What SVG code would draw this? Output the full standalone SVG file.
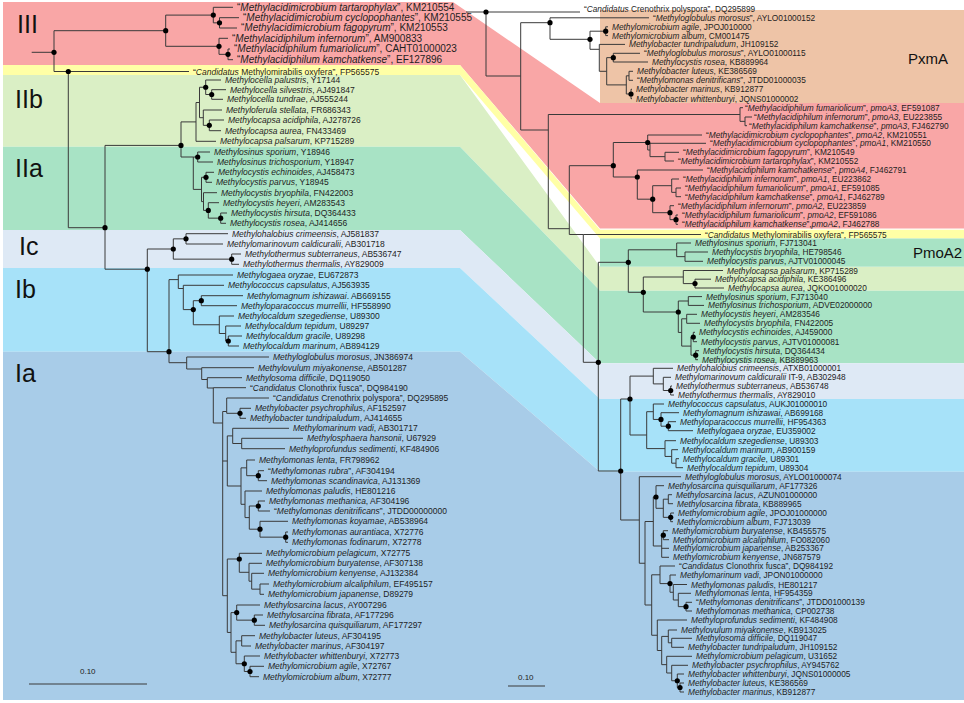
<svg xmlns="http://www.w3.org/2000/svg" width="964" height="703" viewBox="0 0 964 703">
<style>
.t{font-family:"Liberation Sans",Arial,sans-serif;font-size:8.5px;fill:#1e1e1e}
.b{font-family:"Liberation Sans",Arial,sans-serif;font-size:10px;fill:#1e1e1e}
.r{font-family:"Liberation Sans",Arial,sans-serif;font-size:8.3px;fill:#1e1e1e}
.i{font-style:italic}
.c{font-family:"Liberation Sans",Arial,sans-serif;font-size:25px;fill:#111}
.p{font-family:"Liberation Sans",Arial,sans-serif;font-size:15px;fill:#111}
.s{font-family:"Liberation Sans",Arial,sans-serif;font-size:8px;fill:#222}
.tree{fill:none;stroke:#3a3a3a;stroke-width:1}
.d{fill:#000}
</style>
<rect width="964" height="703" fill="#fff"/>
<g id="bands">
<polygon fill="#F9A6A6" points="3,2 453,2 600,103 964,103 964,228.5 600,228.5 460,65 3,65"/>
<polygon fill="#FFFFA6" points="3,65 460,65 600,229.8 964,229.8 964,238.5 600,238.5 460,75 3,75"/>
<polygon fill="#DAEFC5" points="3,75 460,75 600,266.7 964,266.7 964,290.7 600,290.7 460,146.7 3,146.7"/>
<polygon fill="#A8E3C5" points="3,146.7 460,146.7 600,290.7 964,290.7 964,363.3 600,363.3 460,230 3,230"/>
<rect fill="#A8E3C5" x="600" y="238.5" width="364" height="28.2"/>
<polygon fill="#DEE9F5" points="3,230 460,230 600,363.3 964,363.3 964,399 600,399 460,268 3,268"/>
<polygon fill="#A7E2F9" points="3,268 460,268 600,399 964,399 964,471.7 600,471.7 460,351.7 3,351.7"/>
<polygon fill="#A8CCE8" points="3,351.7 460,351.7 600,471.7 964,471.7 964,700 3,700"/>
<rect fill="#EEC4A7" x="600" y="10" width="364" height="93"/>
</g>
<g id="clade-labels">
<text class="c" x="17" y="33">III</text>
<text class="c" x="15" y="108">IIb</text>
<text class="c" x="15" y="177">IIa</text>
<text class="c" x="19" y="254.6">Ic</text>
<text class="c" x="15" y="298">Ib</text>
<text class="c" x="15" y="382">Ia</text>
<text class="p" x="908" y="64">PxmA</text>
<text class="p" x="913" y="258">PmoA2</text>
</g>
<g id="connectors">
<path class="tree" d="M31.7 52.3H54M54 30.7V71.5M54 30.7H165.7M54 71.5H68.3
M165.7 15.1V46.3M165.7 15.1H213.3M165.7 46.3H219
M213.3 7.3V22.85M213.3 7.3H233M213.3 22.85H219.5
M219.5 17.7V28M219.5 17.7H239M219.5 28H237
M219 38.3V54.35M219 38.3H228M219 54.35H228
M228 49V59.7M228 49H230M228 59.7H233
M68.3 71.5V227.7M68.3 71.5H189M68.3 227.7H105
M105 145.4V269.2M105 145.4H181M105 269.2H147.3
M181 121.9V157M181 121.9H196M181 157H193.3
M196 102.5V141.3M196 102.5H199.5M196 141.3H216
M199.5 87.25V117.7M199.5 87.25H205.7M199.5 117.7H203.3
M205.7 80V94.5M205.7 80H221M205.7 94.5H211.7
M211.7 89.7V99.3M211.7 89.7H226M211.7 99.3H223
M203.3 110V125.35M203.3 110H222M203.3 125.35H209.3
M209.3 120V130.7M209.3 120H224M209.3 130.7H221
M193.3 157V189.4M193.3 157H197.7M193.3 189.4H201.5
M197.7 152V162M197.7 152H210M197.7 162H213
M201.5 177.3V201.6M201.5 177.3H206M201.5 201.6H203.5
M206 172.3V182.3M206 172.3H214M206 182.3H212
M203.5 192.7V210.4M203.5 192.7H217M203.5 210.4H208.3
M208.3 202.7V218.15M208.3 202.7H219M208.3 218.15H220.7
M220.7 213V223.3M220.7 213H227M220.7 223.3H226
M147.3 249V351.7M147.3 249H173.3M147.3 351.7H169
M173.3 238.85V259.15M173.3 238.85H186M173.3 259.15H231.7
M186 233.7V244M186 233.7H228M186 244H223
M231.7 254V264.3M231.7 254H241M231.7 264.3H239
M169 279.6V362.7M169 279.6H178.3M169 362.7H186.7
M178.3 275V288.5M178.3 275H233M178.3 288.5H183.3
M183.3 285.3V309.6M183.3 285.3H224M183.3 309.6H193.3
M193.3 300.7V324.75M193.3 300.7H201.3M193.3 324.75H219.3
M201.3 295.7V305.7M201.3 295.7H243M201.3 305.7H237
M219.3 316V333.5M219.3 316H234M219.3 333.5H225.7
M225.7 326V341M225.7 326H241M225.7 341H228.3
M228.3 336V346M228.3 336H242M228.3 346H239
M186.7 357V369M186.7 357H269M186.7 369H201.7
M201.7 367.7V379.5M201.7 367.7H254M201.7 379.5H207.3
M207.3 377.7V388M207.3 377.7H242M207.3 388H213.3
M213.3 387.7V423M213.3 387.7H246M213.3 423H222.7
M222.7 411.5V595.7M222.7 411.5H226.7M222.7 461H227.3M222.7 595.7H227.3
M226.7 398V413.3M226.7 398H269M226.7 413.3H240
M240 408.3V418.3M240 408.3H251M240 418.3H246
M227.3 435.9V486M227.3 435.9H232.7M227.3 486H241
M232.7 428.3V443.5M232.7 428.3H289M232.7 443.5H241.7
M241.7 438.3V448.7M241.7 438.3H303M241.7 448.7H285
M241 467.85V504.3M241 467.85H246.7M241 504.3H245
M246.7 460V475.7M246.7 460H255M246.7 475.7H258.3
M258.3 470.7V480.7M258.3 470.7H264M258.3 480.7H267
M245 491V517.6M245 491H262M245 517.6H249.3
M249.3 506V529.2M249.3 506H258.3M249.3 529.2H260
M258.3 501V511M258.3 501H265M258.3 511H270
M260 521.3V537.15M260 521.3H288M260 537.15H285.7
M285.7 532V542.3M285.7 532H288M285.7 542.3H288
M227.3 559V632.45M227.3 559H239.3M227.3 632.45H231
M239.3 553.3V572.3M239.3 553.3H262M239.3 572.3H249
M249 563.3V581.2M249 563.3H262M249 581.2H251.7
M251.7 573.3V589.15M251.7 573.3H264M251.7 589.15H260
M260 584V594.3M260 584H269M260 594.3H264
M231 612.6V652.3M231 612.6H236.7M231 652.3H236
M236.7 605V620.15M236.7 605H260M236.7 620.15H254.3
M254.3 615V625.3M254.3 615H263M254.3 625.3H265
M236 640.85V663.75M236 640.85H241.7M236 663.75H244.3
M241.7 635.7V646M241.7 635.7H255M241.7 646H251
M244.3 656V671.5M244.3 656H260M244.3 671.5H250
M250 666.3V676.7M250 666.3H264M250 676.7H259"/>
<path class="tree" d="M466 12H486M486 12V76M486 12H580M486 76H520.7
M520.7 22.7V130M520.7 22.7H550M520.7 130H548.3
M550 17.8V39.3M550 17.8H649M550 39.3H590
M590 31.2V49.3M590 31.2H605.7M590 49.3H599.3
M605.7 26.8V35.6M605.7 26.8H608M605.7 35.6H608
M599.3 44.4V71.3M599.3 44.4H625M599.3 71.3H606.7
M606.7 57.65V84.9M606.7 57.65H613.3M606.7 84.9H626.3
M613.3 53.3V62M613.3 53.3H640M613.3 62H648
M626.3 75.8V94M626.3 75.8H629M626.3 94H631
M629 71.3V80.3M629 71.3H633M629 80.3H633
M631 89.3V98.7M631 89.3H632M631 98.7H632
M548.3 114.5V228.7M548.3 114.5H740M548.3 228.7H569.3
M740 107.7V121.35M740 107.7H743M740 121.35H745
M745 117V125.7M745 117H752M745 125.7H747
M569.3 165.7V234.5M569.3 165.7H613.3M569.3 234.5H583.3
M613.3 142.5V177M613.3 142.5H647.7M613.3 177H637.3
M647.7 135V150M647.7 135H702M647.7 150H650
M650 143.3V156.65M650 143.3H706M650 156.65H665
M665 152.3V161M665 152.3H679M665 161H674
M637.3 170V199.2M637.3 170H703M637.3 199.2H652.7
M652.7 185.7V212.7M652.7 185.7H671.7M652.7 212.7H670
M671.7 179V192.35M671.7 179H679M671.7 192.35H676
M676 188V196.7M676 188H681M676 196.7H681
M670 205.7V219.65M670 205.7H674M670 219.65H676
M676 215V224.3M676 215H678M676 224.3H678
M583.3 234.5V362.3M583.3 234.5H701M583.3 362.3H598.3
M598.3 262.3V471M598.3 262.3H628.3M598.3 471H620.7
M628.3 249.8V292.3M628.3 249.8H676.7M628.3 292.3H643.3
M676.7 243V256.65M676.7 243H691M676.7 256.65H685
M685 252V261.3M685 252H708M685 261.3H703
M643.3 277V312M643.3 277H683.3M643.3 312H678.3
M683.3 270.5V283.6M683.3 270.5H723M683.3 283.6H695
M695 279.2V288M695 279.2H711M695 288H724
M678.3 301V332.45M678.3 301H688.3M678.3 332.45H681.7
M688.3 296.6V305.4M688.3 296.6H702M688.3 305.4H704
M681.7 318.8V346.1M681.7 318.8H686.7M681.7 346.1H691
M686.7 314.3V323.3M686.7 314.3H697M686.7 323.3H700
M691 337V355.2M691 337H693.3M691 355.2H695.7
M693.3 332.3V341.7M693.3 332.3H695M693.3 341.7H697
M695.7 350.7V359.7M695.7 350.7H699M695.7 359.7H698
M620.7 399V520M620.7 399H630M620.7 520H639.3
M630 376.1V435M630 376.1H653.3M630 435H646.7
M653.3 368.3V383.9M653.3 368.3H673M653.3 383.9H663.3
M663.3 377.3V390.5M663.3 377.3H671M663.3 390.5H670.7
M670.7 386V395M670.7 386H672M670.7 395H674
M646.7 411.7V448.6M646.7 411.7H653.3M646.7 448.6H665
M653.3 404V419.45M653.3 404H664M653.3 419.45H661
M661 412.7V426.2M661 412.7H679M661 426.2H668.3
M668.3 421.7V430.7M668.3 421.7H676M668.3 430.7H693
M665 440.7V456.45M665 440.7H676M665 456.45H671.7
M671.7 449.7V463.2M671.7 449.7H678M671.7 463.2H676
M676 458.7V467.7M676 458.7H679M676 467.7H683
M639.3 476.7V563.25M639.3 476.7H681M639.3 563.25H645
M645 521.5V605M645 521.5H653.3M645 605H651.7
M653.3 497V546M653.3 497H656M653.3 546H661.7
M656 485.7V508.3M656 485.7H664M656 508.3H663.3
M663.3 499.2V517.35M663.3 499.2H668.3M663.3 517.35H670.7
M668.3 494.7V503.7M668.3 494.7H672M668.3 503.7H673
M670.7 513V521.7M670.7 513H674M670.7 521.7H673
M661.7 535.2V557.3M661.7 535.2H663.3M661.7 548.3H669M661.7 557.3H669
M663.3 530.7V539.7M663.3 530.7H668M663.3 539.7H669
M651.7 574.8V635.25M651.7 574.8H660M651.7 635.25H657.3
M660 566V583.6M660 566H675M660 583.6H670
M670 575V592.25M670 575H676M670 592.25H673.3
M673.3 584.5V600M673.3 584.5H687M673.3 600H678.3
M678.3 593.3V606.65M678.3 593.3H691M678.3 606.65H686
M686 602.3V611M686 602.3H692M686 611H692
M657.3 620V650.5M657.3 620H687M657.3 650.5H661.7
M661.7 636.4V664.65M661.7 636.4H668.3M661.7 664.65H666.7
M668.3 630V642.8M668.3 630H677M668.3 642.8H671.7
M671.7 638.3V647.3M671.7 638.3H692M671.7 647.3H684
M666.7 656.3V673M666.7 656.3H692M666.7 673H671.7
M671.7 665.3V680.75M671.7 665.3H688M671.7 680.75H677.3
M677.3 674V687.5M677.3 674H684M677.3 687.5H680
M680 683V692M680 683H684M680 692H684"/>
<path class="tree" d="M29 684H147M508 686H545"/>
</g>
<g id="node-dots" class="d">
<circle cx="54" cy="52.3" r="2.6"/><circle cx="165.7" cy="30.7" r="2.6"/><circle cx="213.3" cy="15.1" r="2.6"/><circle cx="219.5" cy="22.85" r="2.6"/><circle cx="219" cy="46.3" r="2.6"/><circle cx="228" cy="54.35" r="2.6"/><circle cx="68.3" cy="71.5" r="2.6"/><circle cx="105" cy="227.7" r="2.6"/><circle cx="181" cy="145.4" r="2.6"/><circle cx="147.3" cy="269.2" r="2.6"/><circle cx="173.3" cy="249" r="2.6"/><circle cx="169" cy="351.7" r="2.6"/><circle cx="205.7" cy="87.25" r="2.6"/><circle cx="211.7" cy="94.5" r="2.6"/><circle cx="209.3" cy="125.35" r="2.6"/><circle cx="197.7" cy="157" r="2.6"/><circle cx="206" cy="177.3" r="2.6"/><circle cx="208.3" cy="210.4" r="2.6"/><circle cx="220.7" cy="218.15" r="2.6"/><circle cx="186" cy="238.85" r="2.6"/><circle cx="231.7" cy="259.15" r="2.6"/><circle cx="201.3" cy="300.7" r="2.6"/><circle cx="193.3" cy="309.6" r="2.6"/><circle cx="228.3" cy="341" r="2.6"/><circle cx="240" cy="413.3" r="2.6"/><circle cx="258.3" cy="475.7" r="2.6"/><circle cx="258.3" cy="506" r="2.6"/><circle cx="260" cy="529.2" r="2.6"/><circle cx="285.7" cy="537.15" r="2.6"/><circle cx="239.3" cy="559" r="2.6"/><circle cx="236.7" cy="612.6" r="2.6"/><circle cx="254.3" cy="620.15" r="2.6"/><circle cx="244.3" cy="663.75" r="2.6"/><circle cx="250" cy="671.5" r="2.6"/>
<circle cx="486" cy="12" r="2.6"/><circle cx="550" cy="22.7" r="2.6"/><circle cx="605.7" cy="31.2" r="2.6"/><circle cx="590" cy="39.3" r="2.6"/><circle cx="613.3" cy="57.65" r="2.6"/><circle cx="631" cy="94" r="2.6"/><circle cx="647.7" cy="142.5" r="2.6"/><circle cx="613.3" cy="165.7" r="2.6"/><circle cx="637.3" cy="177" r="2.6"/><circle cx="652.7" cy="199.2" r="2.6"/><circle cx="670" cy="212.7" r="2.6"/><circle cx="676" cy="219.65" r="2.6"/><circle cx="598.3" cy="362.3" r="2.6"/><circle cx="628.3" cy="262.3" r="2.6"/><circle cx="643.3" cy="292.3" r="2.6"/><circle cx="695" cy="283.6" r="2.6"/><circle cx="678.3" cy="312" r="2.6"/><circle cx="693.3" cy="337" r="2.6"/><circle cx="695.7" cy="355.2" r="2.6"/><circle cx="630" cy="399" r="2.6"/><circle cx="670.7" cy="390.5" r="2.6"/><circle cx="661" cy="419.45" r="2.6"/><circle cx="668.3" cy="426.2" r="2.6"/><circle cx="620.7" cy="471" r="2.6"/><circle cx="656" cy="497" r="2.6"/><circle cx="670.7" cy="517.35" r="2.6"/><circle cx="663.3" cy="535.2" r="2.6"/><circle cx="670" cy="583.6" r="2.6"/><circle cx="686" cy="606.65" r="2.6"/><circle cx="677.3" cy="680.75" r="2.6"/><circle cx="680" cy="687.5" r="2.6"/>
</g>
<g id="scale-labels">
<text class="s" x="80" y="674">0.10</text>
<text class="s" x="518" y="680">0.10</text>
</g>
<g id="left-leaves">
<g id="L01"><text class="b" x="237" y="10.6">“<tspan class="i">Methylacidimicrobium tartarophylax</tspan>”, KM210554</text></g>
<g id="L02"><text class="b" x="243" y="21">“<tspan class="i">Methylacidimicrobium cyclopophantes</tspan>”, KM210555</text></g>
<g id="L03"><text class="b" x="241" y="31.3">“<tspan class="i">Methylacidimicrobium fagopyrum</tspan>”, KM210553</text></g>
<g id="L04"><text class="b" x="232" y="41.6">“<tspan class="i">Methylacidiphilum infernorum</tspan>”, AM900833</text></g>
<g id="L05"><text class="b" x="234" y="52.3">“<tspan class="i">Methylacidiphilum fumariolicum</tspan>”, CAHT01000023</text></g>
<g id="L06"><text class="b" x="237" y="63">“<tspan class="i">Methylacidiphilum kamchatkense</tspan>”, EF127896</text></g>
<g id="L07"><text class="t" x="193" y="74.5">“<tspan class="i">Candidatus</tspan> Methylomirabilis oxyfera”,  FP565575</text></g>
<g id="L08"><text class="t" x="225" y="83"><tspan class="i">Methylocella palustris</tspan>, Y17144</text></g>
<g id="L09"><text class="t" x="230" y="92.7"><tspan class="i">Methylocella silvestris</tspan>, AJ491847</text></g>
<g id="L10"><text class="t" x="227" y="102.3"><tspan class="i">Methylocella tundrae</tspan>, AJ555244</text></g>
<g id="L11"><text class="t" x="226" y="113"><tspan class="i">Methyloferula stellata</tspan>, FR686343</text></g>
<g id="L12"><text class="t" x="228" y="123"><tspan class="i">Methylocapsa acidiphila</tspan>, AJ278726</text></g>
<g id="L13"><text class="t" x="225" y="133.7"><tspan class="i">Methylocapsa aurea</tspan>, FN433469</text></g>
<g id="L14"><text class="t" x="220" y="144.3"><tspan class="i">Methylocapsa palsarum</tspan>, KP715289</text></g>
<g id="L15"><text class="t" x="214" y="155"><tspan class="i">Methylosinus sporium</tspan>, Y18946</text></g>
<g id="L16"><text class="t" x="217" y="165"><tspan class="i">Methylosinus trichosporium</tspan>, Y18947</text></g>
<g id="L17"><text class="t" x="218" y="175.3"><tspan class="i">Methylocystis echinoides</tspan>, AJ458473</text></g>
<g id="L18"><text class="t" x="216" y="185.3"><tspan class="i">Methylocystis parvus</tspan>, Y18945</text></g>
<g id="L19"><text class="t" x="221" y="195.7"><tspan class="i">Methylocystis bryophila</tspan>, FN422003</text></g>
<g id="L20"><text class="t" x="223" y="205.7"><tspan class="i">Methylocystis heyeri</tspan>, AM283543</text></g>
<g id="L21"><text class="t" x="231" y="216"><tspan class="i">Methylocystis hirsuta</tspan>, DQ364433</text></g>
<g id="L22"><text class="t" x="230" y="226.3"><tspan class="i">Methylocystis rosea</tspan>, AJ414656</text></g>
<g id="L23"><text class="t" x="232" y="236.7"><tspan class="i">Methylohalobius crimeensis</tspan>, AJ581837</text></g>
<g id="L24"><text class="t" x="227" y="247"><tspan class="i">Methylomarinovum caldicuralii</tspan>, AB301718</text></g>
<g id="L25"><text class="t" x="245" y="257"><tspan class="i">Methylothermus subterraneus</tspan>, AB536747</text></g>
<g id="L26"><text class="t" x="243" y="267.3"><tspan class="i">Methylothermus thermalis</tspan>, AY829009</text></g>
<g id="L27"><text class="t" x="237" y="278"><tspan class="i">Methylogaea oryzae</tspan>, EU672873</text></g>
<g id="L28"><text class="t" x="228" y="288.3"><tspan class="i">Methylococcus capsulatus</tspan>, AJ563935</text></g>
<g id="L29"><text class="t" x="247" y="298.7"><tspan class="i">Methylomagnum ishizawai</tspan>. AB669155</text></g>
<g id="L30"><text class="t" x="241" y="308.7"><tspan class="i">Methyloparacoccus murrellii</tspan>, HF558990</text></g>
<g id="L31"><text class="t" x="238" y="319"><tspan class="i">Methylocaldum szegediense</tspan>, U89300</text></g>
<g id="L32"><text class="t" x="245" y="329"><tspan class="i">Methylocaldum tepidum</tspan>, U89297</text></g>
<g id="L33"><text class="t" x="246" y="339"><tspan class="i">Methylocaldum gracile</tspan>, U89298</text></g>
<g id="L34"><text class="t" x="243" y="349"><tspan class="i">Methylocaldum marinum</tspan>, AB894129</text></g>
<g id="L35"><text class="t" x="273" y="360"><tspan class="i">Methyloglobulus morosus</tspan>, JN386974</text></g>
<g id="L36"><text class="t" x="258" y="370.7"><tspan class="i">Methylovulum miyakonense</tspan>, AB501287</text></g>
<g id="L37"><text class="t" x="246" y="380.7"><tspan class="i">Methylosoma difficile</tspan>, DQ119050</text></g>
<g id="L38"><text class="t" x="250" y="390.7">“<tspan class="i">Candidatus</tspan> Clonothrix fusca”, DQ984190</text></g>
<g id="L39"><text class="t" x="273" y="401">“<tspan class="i">Candidatus</tspan> Crenothrix polyspora”, DQ295895</text></g>
<g id="L40"><text class="t" x="255" y="411.3"><tspan class="i">Methylobacter psychrophilus</tspan>, AF152597</text></g>
<g id="L41"><text class="t" x="250" y="421.3"><tspan class="i">Methylobacter tundripaludum</tspan>, AJ414655</text></g>
<g id="L42"><text class="t" x="293" y="431.3"><tspan class="i">Methylomarinum vadi</tspan>, AB301717</text></g>
<g id="L43"><text class="t" x="307" y="441.3"><tspan class="i">Methylosphaera hansonii</tspan>, U67929</text></g>
<g id="L44"><text class="t" x="289" y="451.7"><tspan class="i">Methyloprofundus sedimenti</tspan>, KF484906</text></g>
<g id="L45"><text class="t" x="259" y="463"><tspan class="i">Methylomonas lenta</tspan>, FR798962</text></g>
<g id="L46"><text class="t" x="268" y="473.7">“<tspan class="i">Methylomonas rubra</tspan>”, AF304194</text></g>
<g id="L47"><text class="t" x="271" y="483.7"><tspan class="i">Methylomonas scandinavica</tspan>, AJ131369</text></g>
<g id="L48"><text class="t" x="266" y="494"><tspan class="i">Methylomonas paludis</tspan>, HE801216</text></g>
<g id="L49"><text class="t" x="269" y="504"><tspan class="i">Methylomonas methanica</tspan>, AF304196</text></g>
<g id="L50"><text class="t" x="274" y="514">“<tspan class="i">Methylomonas denitrificans</tspan>”, JTDD00000000</text></g>
<g id="L51"><text class="t" x="292" y="524.3"><tspan class="i">Methylomonas koyamae</tspan>, AB538964</text></g>
<g id="L52"><text class="t" x="292" y="535"><tspan class="i">Methylomonas aurantiaca</tspan>, X72776</text></g>
<g id="L53"><text class="t" x="292" y="545.3"><tspan class="i">Methylomonas fodinarum</tspan>, X72778</text></g>
<g id="L54"><text class="t" x="266" y="556.3"><tspan class="i">Methylomicrobium pelagicum</tspan>, X72775</text></g>
<g id="L55"><text class="t" x="266" y="566.3"><tspan class="i">Methylomicrobium buryatense</tspan>, AF307138</text></g>
<g id="L56"><text class="t" x="268" y="576.3"><tspan class="i">Methylomicrobium kenyense</tspan>, AJ132384</text></g>
<g id="L57"><text class="t" x="273" y="587"><tspan class="i">Methylomicrobium alcaliphilum</tspan>, EF495157</text></g>
<g id="L58"><text class="t" x="268" y="597.3"><tspan class="i">Methylomicrobium japanense</tspan>, D89279</text></g>
<g id="L59"><text class="t" x="264" y="608"><tspan class="i">Methylosarcina lacus</tspan>, AY007296</text></g>
<g id="L60"><text class="t" x="267" y="618"><tspan class="i">Methylosarcina fibrata</tspan>, AF177296</text></g>
<g id="L61"><text class="t" x="269" y="628.3"><tspan class="i">Methylosarcina quisquiliarum</tspan>, AF177297</text></g>
<g id="L62"><text class="t" x="259" y="638.7"><tspan class="i">Methylobacter luteus</tspan>, AF304195</text></g>
<g id="L63"><text class="t" x="255" y="649"><tspan class="i">Methylobacter marinus</tspan>, AF304197</text></g>
<g id="L64"><text class="t" x="264" y="659"><tspan class="i">Methylobacter whittenburyi</tspan>, X72773</text></g>
<g id="L65"><text class="t" x="268" y="669.3"><tspan class="i">Methylomicrobium agile</tspan>, X72767</text></g>
<g id="L66"><text class="t" x="263" y="679.7"><tspan class="i">Methylomicrobium album</tspan>, X72777</text></g>
</g>
<g id="right-leaves">
<g id="R01"><text class="r" x="584" y="11.5">“<tspan class="i">Candidatus</tspan> Crenothrix polyspora”, DQ295899</text></g>
<g id="R02"><text class="r" x="653" y="20.8">“<tspan class="i">Methyloglobulus morosus</tspan>”, AYLO01000152</text></g>
<g id="R03"><text class="r" x="612" y="29.8"><tspan class="i">Methylomicrobium agile</tspan>, JPOJ010000</text></g>
<g id="R04"><text class="r" x="612" y="38.6"><tspan class="i">Methylomicrobium album</tspan>, CM001475</text></g>
<g id="R05"><text class="r" x="629" y="47.4"><tspan class="i">Methylobacter tundripaludum</tspan>, JH109152</text></g>
<g id="R06"><text class="r" x="644" y="56.3">“<tspan class="i">Methyloglobulus morosus</tspan>”, AYLO01000115</text></g>
<g id="R07"><text class="r" x="652" y="65"><tspan class="i">Methylocystis rosea</tspan>, KB889964</text></g>
<g id="R08"><text class="r" x="637" y="74.3"><tspan class="i">Methylobacter luteus</tspan>, KE386569</text></g>
<g id="R09"><text class="r" x="637" y="83.3">“<tspan class="i">Methylomonas denitrificans</tspan>”, JTDD01000035</text></g>
<g id="R10"><text class="r" x="636" y="92.3"><tspan class="i">Methylobacter marinus</tspan>, KB912877</text></g>
<g id="R11"><text class="r" x="636" y="101.7"><tspan class="i">Methylobacter whittenburyi</tspan>, JQNS01000002</text></g>
<g id="R12"><text class="r" x="745" y="110.7">“<tspan class="i">Methylacidiphilum fumariolicum</tspan>”, <tspan class="i">pmoA3</tspan>, EF591087</text></g>
<g id="R13"><text class="r" x="754" y="120">“<tspan class="i">Methylacidiphilum infernorum</tspan>”, <tspan class="i">pmoA3</tspan>, EU223855</text></g>
<g id="R14"><text class="r" x="749" y="128.7">“<tspan class="i">Methylacidiphilum kamchatkense</tspan>”, <tspan class="i">pmoA3</tspan>, FJ462790</text></g>
<g id="R15"><text class="r" x="706" y="138">“<tspan class="i">Methylacidimicrobium cyclopophantes</tspan>”, <tspan class="i">pmoA2</tspan>, KM210551</text></g>
<g id="R16"><text class="r" x="710" y="146.3">“<tspan class="i">Methylacidimicrobium cyclopophantes</tspan>”, <tspan class="i">pmoA1</tspan>, KM210550</text></g>
<g id="R17"><text class="r" x="683" y="155.3">“<tspan class="i">Methylacidimicrobium fagopyrum</tspan>”, KM210549</text></g>
<g id="R18"><text class="r" x="678" y="164">“<tspan class="i">Methylacidimicrobium tartarophylax</tspan>”, KM210552</text></g>
<g id="R19"><text class="r" x="707" y="173">“<tspan class="i">Methylacidiphilum kamchatkense</tspan>”, <tspan class="i">pmoA4</tspan>, FJ462791</text></g>
<g id="R20"><text class="r" x="683" y="182">“<tspan class="i">Methylacidiphilum infernorum</tspan>”, <tspan class="i">pmoA1</tspan>, EU223862</text></g>
<g id="R21"><text class="r" x="685" y="191">“<tspan class="i">Methylacidiphilum fumariolicum</tspan>”, <tspan class="i">pmoA1</tspan>, EF591085</text></g>
<g id="R22"><text class="r" x="685" y="199.7">“<tspan class="i">Methylacidiphilum kamchatkense</tspan>”, <tspan class="i">pmoA1</tspan>, FJ462789</text></g>
<g id="R23"><text class="r" x="678" y="208.7">“<tspan class="i">Methylacidiphilum infernorum</tspan>”, <tspan class="i">pmoA2</tspan>, EU223859</text></g>
<g id="R24"><text class="r" x="682" y="218">“<tspan class="i">Methylacidiphilum fumariolicum</tspan>”, <tspan class="i">pmoA2</tspan>, EF591086</text></g>
<g id="R25"><text class="r" x="682" y="227.3">“<tspan class="i">Methylacidiphilum kamchatkense</tspan>”,<tspan class="i">pmoA2</tspan>, FJ462788</text></g>
<g id="R26"><text class="r" x="705" y="237.5">“<tspan class="i">Candidatus</tspan> Methylomirabilis oxyfera”,  FP565575</text></g>
<g id="R27"><text class="r" x="695" y="246"><tspan class="i">Methylosinus sporium</tspan>, FJ713041</text></g>
<g id="R28"><text class="r" x="712" y="255"><tspan class="i">Methylocystis bryophila</tspan>, HE798546</text></g>
<g id="R29"><text class="r" x="707" y="264.3"><tspan class="i">Methylocystis parvus</tspan>, AJTV01000045</text></g>
<g id="R30"><text class="r" x="727" y="273.5"><tspan class="i">Methylocapsa palsarum</tspan>, KP715289</text></g>
<g id="R31"><text class="r" x="715" y="282.2"><tspan class="i">Methylocapsa acidiphila</tspan>, KE386496</text></g>
<g id="R32"><text class="r" x="728" y="291"><tspan class="i">Methylocapsa aurea</tspan>, JQKO01000020</text></g>
<g id="R33"><text class="r" x="706" y="299.6"><tspan class="i">Methylosinus sporium</tspan>, FJ713040</text></g>
<g id="R34"><text class="r" x="708" y="308.4"><tspan class="i">Methylosinus trichosporium</tspan>, ADVE02000000</text></g>
<g id="R35"><text class="r" x="701" y="317.3"><tspan class="i">Methylocystis heyeri</tspan>, AM283546</text></g>
<g id="R36"><text class="r" x="704" y="326.3"><tspan class="i">Methylocystis bryophila</tspan>, FN422005</text></g>
<g id="R37"><text class="r" x="699" y="335.3"><tspan class="i">Methylocystis echinoides</tspan>, AJ459000</text></g>
<g id="R38"><text class="r" x="701" y="344.7"><tspan class="i">Methylocystis parvus</tspan>, AJTV01000081</text></g>
<g id="R39"><text class="r" x="703" y="353.7"><tspan class="i">Methylocystis hirsuta</tspan>, DQ364434</text></g>
<g id="R40"><text class="r" x="702" y="362.7"><tspan class="i">Methylocystis rosea</tspan>, KB889963</text></g>
<g id="R41"><text class="r" x="677" y="371.3"><tspan class="i">Methylohalobius crimeensis</tspan>, ATXB01000001</text></g>
<g id="R42"><text class="r" x="675" y="380.3"><tspan class="i">Methylomarinovum caldicuralii</tspan> IT-9, AB302948</text></g>
<g id="R43"><text class="r" x="676" y="389"><tspan class="i">Methylothermus subterraneus</tspan>, AB536748</text></g>
<g id="R44"><text class="r" x="678" y="398"><tspan class="i">Methylothermus thermalis</tspan>, AY829010</text></g>
<g id="R45"><text class="r" x="668" y="407"><tspan class="i">Methylococcus capsulatus</tspan>, AUKJ01000010</text></g>
<g id="R46"><text class="r" x="683" y="415.7"><tspan class="i">Methylomagnum ishizawai</tspan>, AB699168</text></g>
<g id="R47"><text class="r" x="680" y="424.7"><tspan class="i">Methyloparacoccus murrellii</tspan>, HF954363</text></g>
<g id="R48"><text class="r" x="697" y="433.7"><tspan class="i">Methylogaea oryzae</tspan>, EU359002</text></g>
<g id="R49"><text class="r" x="680" y="443.7"><tspan class="i">Methylocaldum szegediense</tspan>, U89303</text></g>
<g id="R50"><text class="r" x="682" y="452.7"><tspan class="i">Methylocaldum marinum</tspan>, AB900159</text></g>
<g id="R51"><text class="r" x="683" y="461.7"><tspan class="i">Methylocaldum gracile</tspan>, U89301</text></g>
<g id="R52"><text class="r" x="687" y="470.7"><tspan class="i">Methylocaldum tepidum</tspan>, U89304</text></g>
<g id="R53"><text class="r" x="685" y="479.7"><tspan class="i">Methyloglobulus morosus</tspan>, AYLO01000074</text></g>
<g id="R54"><text class="r" x="668" y="488.7"><tspan class="i">Methylosarcina quisquiliarum</tspan>, AF177326</text></g>
<g id="R55"><text class="r" x="676" y="497.7"><tspan class="i">Methylosarcina lacus</tspan>, AZUN01000000</text></g>
<g id="R56"><text class="r" x="677" y="506.7"><tspan class="i">Methylosarcina fibrata</tspan>, KB889965</text></g>
<g id="R57"><text class="r" x="678" y="516"><tspan class="i">Methylomicrobium agile</tspan>, JPOJ01000000</text></g>
<g id="R58"><text class="r" x="677" y="524.7"><tspan class="i">Methylomicrobium album</tspan>, FJ713039</text></g>
<g id="R59"><text class="r" x="672" y="533.7"><tspan class="i">Methylomicrobium buryatense</tspan>, KB455575</text></g>
<g id="R60"><text class="r" x="673" y="542.7"><tspan class="i">Methylomicrobium alcaliphilum</tspan>, FO082060</text></g>
<g id="R61"><text class="r" x="673" y="551.3"><tspan class="i">Methylomicrobium japanense</tspan>, AB253367</text></g>
<g id="R62"><text class="r" x="673" y="560.3"><tspan class="i">Methylomicrobium kenyense</tspan>, JN687579</text></g>
<g id="R63"><text class="r" x="679" y="569">“<tspan class="i">Candidatus</tspan> Clonothrix fusca”, DQ984192</text></g>
<g id="R64"><text class="r" x="680" y="578"><tspan class="i">Methylomarinum vadi</tspan>, JPON01000000</text></g>
<g id="R65"><text class="r" x="691" y="587.5"><tspan class="i">Methylomonas paludis</tspan>, HE801217</text></g>
<g id="R66"><text class="r" x="695" y="596.3"><tspan class="i">Methylomonas lenta</tspan>, HF954359</text></g>
<g id="R67"><text class="r" x="696" y="605.3">“<tspan class="i">Methylomonas denitrificans</tspan>”, JTDD01000139</text></g>
<g id="R68"><text class="r" x="696" y="614"><tspan class="i">Methylomonas methanica</tspan>, CP002738</text></g>
<g id="R69"><text class="r" x="691" y="623"><tspan class="i">Methyloprofundus sedimenti</tspan>, KF484908</text></g>
<g id="R70"><text class="r" x="681" y="633"><tspan class="i">Methylovulum miyakonense</tspan>, KB913025</text></g>
<g id="R71"><text class="r" x="696" y="641.3"><tspan class="i">Methylosoma difficile</tspan>, DQ119047</text></g>
<g id="R72"><text class="r" x="688" y="650.3"><tspan class="i">Methylobacter tundripaludum</tspan>, JH109152</text></g>
<g id="R73"><text class="r" x="696" y="659.3"><tspan class="i">Methylomicrobium pelagicum</tspan>, U31652</text></g>
<g id="R74"><text class="r" x="692" y="668.3"><tspan class="i">Methylobacter psychrophilus</tspan>, AY945762</text></g>
<g id="R75"><text class="r" x="688" y="677"><tspan class="i">Methylobacter whittenburyi</tspan>, JQNS01000005</text></g>
<g id="R76"><text class="r" x="688" y="686"><tspan class="i">Methylobacter luteus</tspan>, KE386569</text></g>
<g id="R77"><text class="r" x="688" y="695"><tspan class="i">Methylobacter marinus</tspan>, KB912877</text></g>
</g>
</svg>
